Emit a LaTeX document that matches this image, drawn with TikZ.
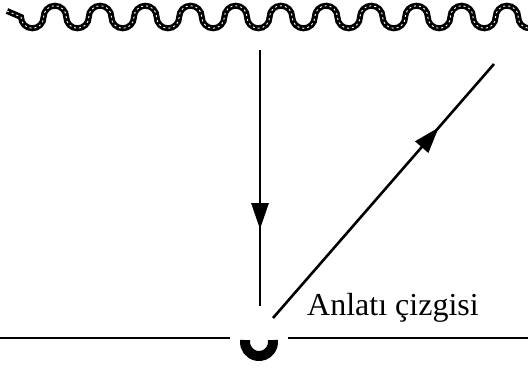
\documentclass[tikz,border=0pt]{standalone}
\usepackage{fontspec}
\setmainfont{Liberation Serif}
\usetikzlibrary{arrows.meta,decorations.markings}
\begin{document}
\begin{tikzpicture}[x=1pt,y=1pt,
    ln/.style={black,line width=2.6pt},
    mid/.style={postaction={decorate},decoration={markings,
      mark=at position #1 with {\arrow{Triangle[length=26pt,width=17pt]}}}},
    tube/.style={black,line width=6pt},
    core/.style={white,line width=0.9pt,dash pattern=on 2pt off 3pt},
    hs/.style={black,line width=10pt},
    lbl/.style={font=\fontsize{32}{35}\selectfont,inner sep=0pt}]
  \useasboundingbox (0,0) rectangle (528,368);
  % the wavy line on top
  \coordinate (wst) at (21,351);
  \foreach \sty in {tube,core}{
    \draw[\sty] (7,357) -- (wst)
      \foreach \k in {1,...,12}{
        arc[start angle=180,end angle=360,radius=11.3]
        arc[start angle=180,end angle=0,radius=11.3]
      };
  }
  % the two rays
  \coordinate (vtop) at (260,318);
  \coordinate (vbot) at (260,62);
  \coordinate (dlow) at (273,50);
  \coordinate (dtop) at (494,304);
  \draw[ln,mid=0.70] (vtop) -- (vbot);
  \draw[ln,mid=0.75] (dlow) -- (dtop);
  % the ground line and the cup
  \coordinate (gl) at (0,30);
  \coordinate (gle) at (230,30);
  \coordinate (grs) at (288,30);
  \coordinate (gr) at (528,30);
  \draw[ln] (gl) -- (gle);
  \draw[ln] (grs) -- (gr);
  \coordinate (cup) at (259,26);
  \draw[hs] ([shift={(172:14)}]cup) arc[start angle=172,end angle=368,radius=14];
  \node[lbl,anchor=base west] (txt) at (307,53) {Anlatı çizgisi};
\end{tikzpicture}
\end{document}
